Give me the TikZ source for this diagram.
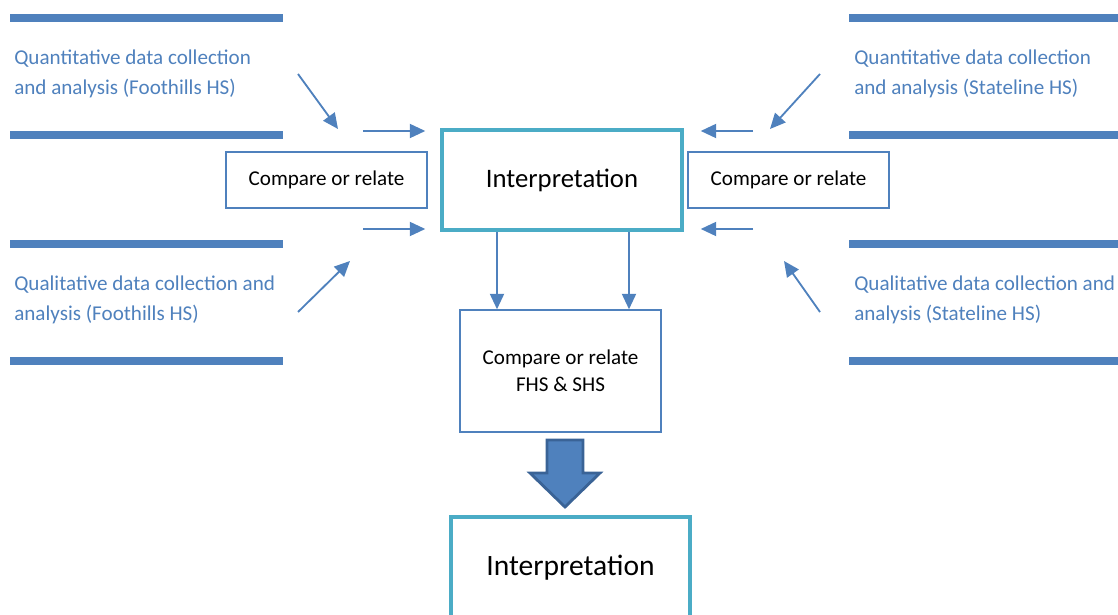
\documentclass[tikz,border=0pt]{standalone}
\usepackage{fontspec}
\setmainfont{Carlito}
\usetikzlibrary{arrows.meta}
\definecolor{accent}{HTML}{4F81BD}
\definecolor{frame}{HTML}{4BACC6}
\definecolor{edge}{HTML}{3A6396}
\begin{document}
\begin{tikzpicture}[x=0.025cm, y=-0.025cm, >={Triangle[length=11pt,width=10pt]},
    bar/.style={accent, line width=5.5pt},
    src/.style={anchor=west, inner sep=0pt, align=left, text=accent, font=\fontsize{15}{21.3}\selectfont},
    cmpbox/.style={draw=accent, line width=1pt, minimum width=5.03cm, align=center, font=\fontsize{15}{19}\selectfont},
    interp/.style={draw=frame, line width=3pt, minimum width=5.98cm},
    flow/.style={->, accent, line width=1.3pt}]
\useasboundingbox (0,0) rectangle (1118,615);
\foreach \y in {18,135,244,361}
{
    \draw[bar](10,\y)--(283,\y);
    \draw[bar](849,\y)--(1118,\y);
}
\node[src] (quanF) at (14,74) {Quantitative data collection\\and analysis (Foothills HS)};
\node[src] (qualF) at (14,300) {Qualitative data collection and\\analysis (Foothills HS)};
\node[src] (quanS) at (854,74) {Quantitative data collection\\and analysis (Stateline HS)};
\node[src] (qualS) at (854,300) {Qualitative data collection and\\analysis (Stateline HS)};

\node[cmpbox, minimum height=1.4cm] (cmpF) at (326.5,180) {Compare or relate};
\node[interp, minimum height=2.5cm, font=\fontsize{19}{22}\selectfont] (interp) at (562,180) {Interpretation};
\node[cmpbox, minimum height=1.4cm] (cmpS) at (788.5,180) {Compare or relate};
\node[cmpbox, minimum height=3.05cm] (cmpFS) at (560.5,371) {Compare or relate\\FHS \& SHS};
\node[interp, minimum height=2.55cm, font=\fontsize{21}{24}\selectfont] (final) at (570.5,568) {Interpretation};

% free ends of the short arrows
\coordinate (aF1) at (298,74);  \coordinate (bF1) at (338,129);
\coordinate (aF2) at (298,312); \coordinate (bF2) at (350,261);
\coordinate (aS1) at (820,74);  \coordinate (bS1) at (770,129);
\coordinate (aS2) at (820,312); \coordinate (bS2) at (784,261);
\coordinate (hF1) at (363,131); \coordinate (hF2) at (363,229);
\coordinate (hS1) at (753,131); \coordinate (hS2) at (753,229);

\draw[flow](aF1)--(bF1);
\draw[flow](aF2)--(bF2);
\draw[flow](aS1)--(bS1);
\draw[flow](aS2)--(bS2);
\draw[flow](hF1)--([xshift=-15*0.025cm]hF1 -| interp.west);
\draw[flow](hF2)--([xshift=-15*0.025cm]hF2 -| interp.west);
\draw[flow](hS1)--([xshift=17*0.025cm]hS1 -| interp.east);
\draw[flow](hS2)--([xshift=17*0.025cm]hS2 -| interp.east);
\draw[flow](interp.south -| 497,0)--(cmpFS.north -| 497,0);
\draw[flow](interp.south -| 629,0)--(cmpFS.north -| 629,0);

% block arrow
\draw[fill=accent, draw=edge, line width=2pt, line join=miter]
    (547,440)--(583,440)--(583,473)--(600,473)--(565,507)--(530,473)--(547,473)--cycle;
\end{tikzpicture}
\end{document}
